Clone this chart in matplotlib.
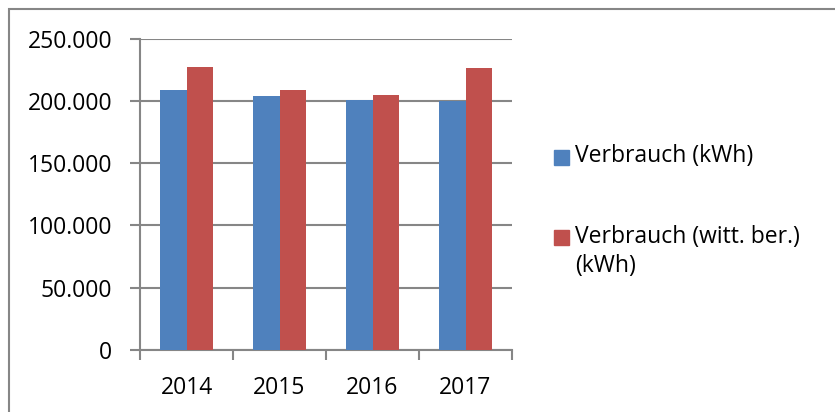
import numpy as np
import matplotlib.pyplot as plt
from matplotlib.patches import Rectangle
from matplotlib.ticker import FuncFormatter

years = ['2014', '2015', '2016', '2017']
series_names = ['Verbrauch (kWh)', 'Verbrauch (witt. ber.)\n(kWh)']
verbrauch = [208800, 204000, 200500, 200300]
verbrauch_witt = [227500, 208600, 204800, 226700]
colors = ['#4f81bd', '#c0504d']

plt.rcParams['font.family'] = ['Open Sans', 'DejaVu Sans']
grey = '#868686'
fs = 16.5

fig = plt.figure(figsize=(8.35, 4.12), dpi=100)
ax = fig.add_axes([140/835, 1-350/412, 372/835, 311.3/412])

x = np.arange(len(years))
w = 0.285
ax.bar(x - w/2, verbrauch, w, color=colors[0], zorder=3)
ax.bar(x + w/2, verbrauch_witt, w, color=colors[1], zorder=3)

ax.set_xlim(-0.5, len(years) - 0.5)
ax.set_ylim(0, 250000)
ax.set_yticks(np.arange(0, 250001, 50000))
ax.yaxis.set_major_formatter(FuncFormatter(lambda v, p: f'{int(v):,}'.replace(',', '.')))
ax.yaxis.grid(True, color=grey, lw=1.5, zorder=0)

ax.set_xticks(x)
ax.set_xticklabels(years)
ax.set_xticks(np.arange(-0.5, len(years)), minor=True)
ax.tick_params(axis='x', which='major', length=0, pad=19, labelsize=fs)
ax.tick_params(axis='x', which='minor', length=7, width=1.5, color=grey)
ax.tick_params(axis='y', length=7, width=1.5, color=grey, pad=13, labelsize=fs)

for s in ['top', 'right']:
    ax.spines[s].set_visible(False)
for s in ['left', 'bottom']:
    ax.spines[s].set_color(grey)
    ax.spines[s].set_linewidth(1.5)

# legend, drawn by hand so the marker sits next to the first line
leg_y = [157/412, 238/412]
for name, c, yy in zip(series_names, colors, leg_y):
    fig.patches.append(Rectangle((554/835, 1 - yy - 7.5/412), 15/835, 15/412,
                                 transform=fig.transFigure, color=c))
    fig.text(575/835, 1 - yy + 13/412, name, fontsize=fs, va='top', ha='left',
             linespacing=1.25, transform=fig.transFigure)

# outer chart frame
fig.patches.append(Rectangle((9/835, -0.1), 1.1, 1.1 - 9.5/412,
                             transform=fig.transFigure, fill=False,
                             ec=grey, lw=1.5))

fig.savefig('out.png', dpi=100)
